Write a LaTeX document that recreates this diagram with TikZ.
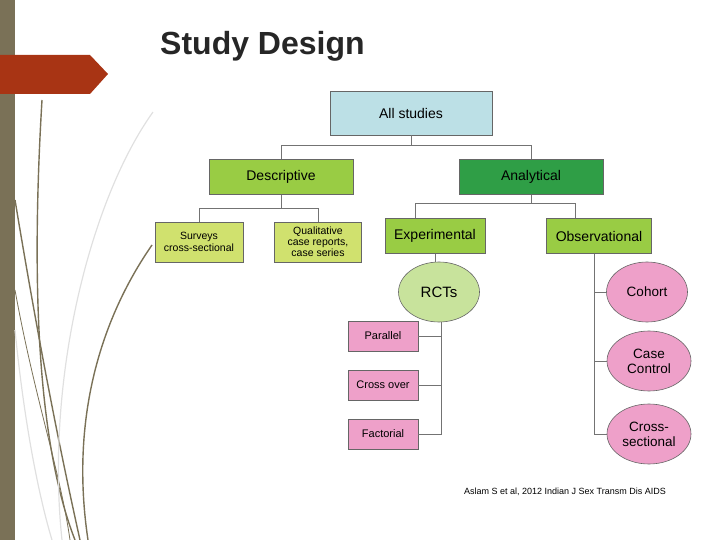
\documentclass[tikz,border=0pt]{standalone}
\usepackage{fontspec}
\setmainfont{Liberation Sans}
\usetikzlibrary{shapes.geometric}
\definecolor{skyblue}{HTML}{BCE0E6}
\definecolor{leafgreen}{HTML}{99CC44}
\definecolor{darkgreen}{HTML}{2F9E46}
\definecolor{limegreen}{HTML}{D0E16E}
\definecolor{palegreen}{HTML}{C8E39C}
\definecolor{rosepink}{HTML}{EEA0C9}
\definecolor{olive}{HTML}{7A7157}
\definecolor{rust}{HTML}{A83414}
\tikzset{
  box/.style={draw=black!60, line width=0.6pt, minimum width=#1, align=center, inner sep=1pt},
  blob/.style={ellipse, draw=black!60, line width=0.6pt, fill=rosepink, minimum width=81pt, minimum height=60pt, align=center, inner sep=0pt, font=\fontsize{13.5}{15}\selectfont},
  link/.style={draw=black!55, line width=0.7pt},
  twig/.style={draw=olive, line width=1.4pt},
}
\begin{document}
\begin{tikzpicture}[x=1pt,y=-1pt]
  \useasboundingbox (0,0) rectangle (720,540);
  % side strip and banner
  \fill[olive] (0,0) rectangle (15,540);
  \fill[rust] (0,55) -- (90,55) -- (108,74) -- (90,94) -- (0,94) -- cycle;
  % grass
  \draw[twig] (42,100) .. controls (30,300) and (40,450) .. (75,540);
  \draw[twig] (15,200) .. controls (40,350) and (60,450) .. (80,540);
  \draw[twig] (152,245) .. controls (100,320) and (70,420) .. (88,540);
  \draw[twig, line width=0.8pt] (15,290) .. controls (35,400) and (60,470) .. (70,540);
  \draw[black!12, line width=1.2pt] (153,112) .. controls (90,200) and (45,380) .. (62,540);
  \draw[black!12, line width=1.2pt] (15,330) .. controls (25,430) and (40,500) .. (52,540);
  % title
  \node[anchor=west, font=\bfseries\fontsize{32}{34}\selectfont, text=black!85, inner sep=0pt] (title) at (160,46) {Study Design};
  % boxes
  \node[box=162pt, minimum height=44pt, fill=skyblue, font=\fontsize{14}{15}\selectfont] (all) at (411,113) {All studies};
  \node[box=144pt, minimum height=35pt, fill=leafgreen, font=\fontsize{14}{15}\selectfont] (desc) at (281,177) {Descriptive};
  \node[box=144pt, minimum height=35pt, fill=darkgreen, font=\fontsize{14}{15}\selectfont] (anal) at (531,177) {Analytical};
  \node[box=88pt, minimum height=40pt, fill=limegreen, font=\fontsize{10.5}{11.5}\selectfont] (surv) at (199,242) {Surveys\\cross-sectional};
  \node[box=87pt, minimum height=40pt, fill=limegreen, font=\fontsize{10.5}{11}\selectfont] (qual) at (318,242) {Qualitative\\case reports,\\case series};
  \node[box=100pt, minimum height=35pt, fill=leafgreen, font=\fontsize{14}{15}\selectfont] (expe) at (435,236) {Experimental};
  \node[box=105pt, minimum height=35pt, fill=leafgreen, font=\fontsize{14}{15}\selectfont] (obse) at (599,236) {Observational};
  \node[blob, fill=palegreen, font=\fontsize{15}{16}\selectfont] (rct) at (439,292) {RCTs};
  \node[box=70pt, minimum height=30pt, fill=rosepink, font=\fontsize{11}{12}\selectfont] (para) at (383,336) {Parallel};
  \node[box=70pt, minimum height=30pt, fill=rosepink, font=\fontsize{11}{12}\selectfont] (cross) at (383,385) {Cross over};
  \node[box=70pt, minimum height=30pt, fill=rosepink, font=\fontsize{11}{12}\selectfont] (fact) at (383,434) {Factorial};
  \node[blob] (coho) at (647,292) {Cohort};
  \node[blob, minimum width=84pt] (cctl) at (649,361) {Case\\Control};
  \node[blob, minimum width=84pt] (csec) at (649,434) {Cross-\\sectional};
  % connectors
  \draw[link] (all.south) -- ++(0,10) -| (desc.north);
  \draw[link] (all.south) ++(0,10) -| (anal.north);
  \draw[link] (desc.south) -- ++(0,14) -| (surv.north);
  \draw[link] (desc.south) ++(0,14) -| (qual.north);
  \draw[link] (anal.south) -- ++(0,9) -| ([xshift=-20pt]expe.north);
  \draw[link] (anal.south) ++(0,9) -| ([xshift=-24pt]obse.north);
  \draw[link] (expe.south) -- (expe.south |- rct.north);
  \draw[link] ([xshift=2pt]rct.south) |- (fact.east);
  \draw[link] ([xshift=2pt]rct.south) |- (para.east);
  \draw[link] ([xshift=2pt]rct.south) |- (cross.east);
  \draw[link] ([xshift=-5pt]obse.south) |- (csec.west);
  \draw[link] ([xshift=-5pt]obse.south) |- (coho.west);
  \draw[link] ([xshift=-5pt]obse.south) |- (cctl.west);
  % source
  \node[font=\fontsize{9}{10}\selectfont] (cite) at (565,492) {Aslam S et al, 2012 Indian J Sex Transm Dis AIDS};
\end{tikzpicture}
\end{document}
